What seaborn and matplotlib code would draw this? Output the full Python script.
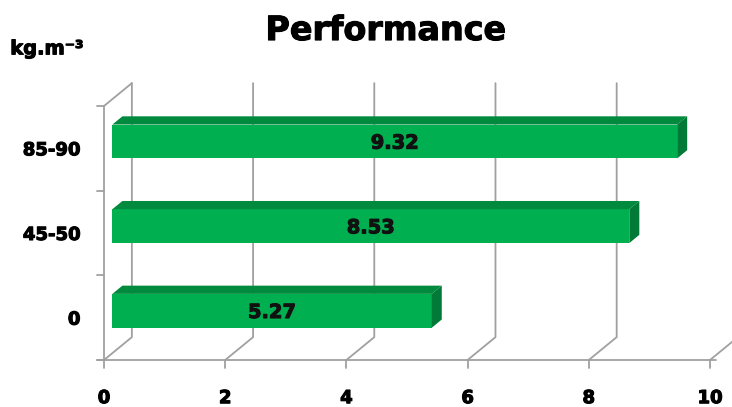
import matplotlib.pyplot as plt
import matplotlib.patheffects as pe
import seaborn as sns
import pandas as pd
from matplotlib.patches import Polygon

# data
categories = ['0', '45-50', '85-90']
performance = [5.27, 8.53, 9.32]
x_ticks = [0, 2, 4, 6, 8, 10]

df = pd.DataFrame({'density': categories, 'performance': performance})

sns.set_style('white')
plt.rcParams['font.family'] = ['DejaVu Sans']
plt.rcParams['text.color'] = 'black'
plt.rcParams['xtick.color'] = 'black'
plt.rcParams['ytick.color'] = 'black'

fig = plt.figure(figsize=(7.32, 4.07), dpi=100)
ax = fig.add_axes([104 / 732, 47 / 407, 606 / 732, 254 / 407])

front = '#00b050'
top_col = '#008a3e'
side_col = '#007a36'
grid_col = '#a0a0a0'

# a thin stroke makes the bold text look heavier, like the original
heavy = [pe.withStroke(linewidth=0.8, foreground='black')]

sns.barplot(data=df, x='performance', y='density', order=categories,
            orient='h', width=0.4, color=front, saturation=1,
            edgecolor='none', ax=ax)
ax.set_xlim(0, 10)
ax.set_ylim(-0.5, 2.5)

# depth of the fake 3D box (data units), and where the bars sit in it
DX, DY = 0.46, 0.27
fx, fy = 0.3 * DX, 0.3 * DY
bx, by = 0.36 * DX, 0.36 * DY

# back wall grid lines and floor diagonals
for t in x_ticks:
    ax.plot([t, t + DX, t + DX], [-0.5, -0.5 + DY, 2.5 + DY],
            color=grid_col, lw=1.3, clip_on=False, zorder=1)
# top-left diagonal, left axis and floor line
ax.plot([0, DX], [2.5, 2.5 + DY], color=grid_col, lw=1.3, clip_on=False, zorder=1)
ax.plot([-0.12, 10.1], [-0.5, -0.5], color=grid_col, lw=1.3, clip_on=False, zorder=1)
ax.plot([0, 0], [-0.5, 2.5], color=grid_col, lw=1.3, clip_on=False, zorder=1)
for b in [-0.5, 0.5, 1.5, 2.5]:
    ax.plot([-0.12, 0], [b, b], color=grid_col, lw=1.3, clip_on=False, zorder=1)
for t in x_ticks:
    ax.plot([t, t], [-0.5, -0.6], color=grid_col, lw=1.3, clip_on=False, zorder=1)

# shift bars into the box and add top / side faces
for p, val in zip(ax.patches, performance):
    p.set_x(p.get_x() + fx)
    p.set_y(p.get_y() + fy)
    p.set_zorder(3)
    x0, y0 = p.get_x(), p.get_y()
    w, h = p.get_width(), p.get_height()
    ax.add_patch(Polygon([(x0, y0 + h), (x0 + w, y0 + h),
                          (x0 + w + bx, y0 + h + by), (x0 + bx, y0 + h + by)],
                         closed=True, facecolor=top_col, edgecolor='none', zorder=3))
    ax.add_patch(Polygon([(x0 + w, y0), (x0 + w + bx, y0 + by),
                          (x0 + w + bx, y0 + h + by), (x0 + w, y0 + h)],
                         closed=True, facecolor=side_col, edgecolor='none', zorder=3))
    ax.text(x0 + w / 2, y0 + h / 2 - 0.02, f'{val:.2f}', ha='center', va='center',
            fontsize=14, fontweight='bold', color='#111111', zorder=4,
            path_effects=[pe.withStroke(linewidth=0.8, foreground='#111111')])

for s in ax.spines.values():
    s.set_visible(False)
ax.set_xticks(x_ticks)
ax.set_xticklabels([str(t) for t in x_ticks])
ax.tick_params(axis='x', length=0, pad=21)
ax.tick_params(axis='y', length=0, pad=17)
for lab in ax.get_yticklabels() + ax.get_xticklabels():
    lab.set_fontsize(13)
    lab.set_fontweight('bold')
    lab.set_path_effects(heavy)
ax.set_xlabel('')
ax.set_ylabel('')

fig.text(0.527, 0.925, 'Performance', ha='center', va='center',
         fontsize=24, fontweight='bold', path_effects=heavy)
fig.text(0.014, 0.88, 'kg.m\u207b\u00b3', ha='left', va='center',
         fontsize=14, fontweight='bold', path_effects=heavy)

fig.savefig('out.png', dpi=100)
